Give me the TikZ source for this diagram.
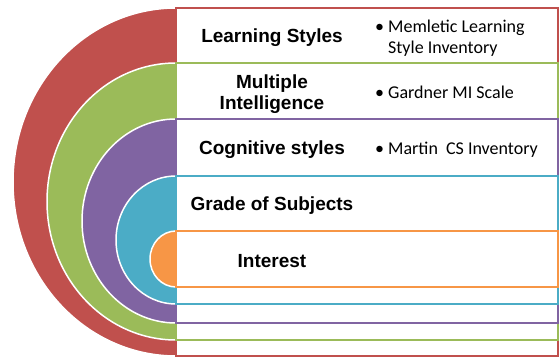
\documentclass[tikz,border=0pt]{standalone}
\usepackage{fontspec}
\setmainfont{Liberation Sans}
\newfontfamily\itemfont{Carlito}
\definecolor{layerred}{HTML}{C0504D}
\definecolor{layergreen}{HTML}{9BBB59}
\definecolor{layerpurple}{HTML}{8064A2}
\definecolor{layerteal}{HTML}{4BACC6}
\definecolor{layerorange}{HTML}{F79646}
\begin{document}
\begin{tikzpicture}[x=1pt,y=-1pt]

    \tikzset{
      ring/.style={
        draw=white,
        line width=1.5pt,
      },
      band/.style={
        fill=white,
        line width=2pt,
      },
      layertext/.style={
        anchor=base,
        font=\fontsize{19}{21}\selectfont\bfseries,
      },
      itemtext/.style={
        anchor=base west,
        inner sep=0pt,
        font=\fontsize{18}{21}\itemfont,
      },
    }
    \useasboundingbox (0,0) rectangle (560,358);
	\filldraw [fill={layerred},ring] (176,8) arc[start angle=90,end angle=270,x radius=163pt,y radius=174pt] -- cycle;
	\draw [color={layerred},band] (176,8) rectangle (558,356);
	\filldraw [fill={layergreen},ring] (176,63) arc[start angle=90,end angle=270,x radius=129pt,y radius=138.5pt] -- cycle;
	\draw [color={layergreen},band] (176,63) rectangle (558,340);
	\filldraw [fill={layerpurple},ring] (176,119) arc[start angle=90,end angle=270,x radius=94pt,y radius=102pt] -- cycle;
	\draw [color={layerpurple},band] (176,119) rectangle (558,323);
	\filldraw [fill={layerteal},ring] (176,176) arc[start angle=90,end angle=270,x radius=60pt,y radius=64pt] -- cycle;
	\draw [color={layerteal},band] (176,176) rectangle (558,304);
	\filldraw [fill={layerorange},ring] (176,231) arc[start angle=90,end angle=270,x radius=26pt,y radius=28pt] -- cycle;
	\draw [color={layerorange},band] (176,231) rectangle (558,287);

	\draw [color={black}] (272,43) node (learn) [layertext] {Learning Styles};
	\draw [color={black}] (272,89) node (multi) [layertext] {Multiple};
	\draw [color={black}] (272,110) node (intel) [layertext] {Intelligence};
	\draw [color={black}] (272,155) node (cogn) [layertext] {Cognitive styles};
	\draw [color={black}] (272,211) node (grade) [layertext] {Grade of Subjects};
	\draw [color={black}] (272,268) node (inter) [layertext] {Interest};

	\draw [color={black}] (375,33) node (dotlearn) [itemtext] {•};
	\draw [color={black}] (388,33) node (memletic) [itemtext] {Memletic Learning};
	\draw [color={black}] (388,54) node (inventory) [itemtext] {Style Inventory};
	\draw [color={black}] (375,99) node (dotmulti) [itemtext] {•};
	\draw [color={black}] (388,99) node (gardner) [itemtext] {Gardner MI Scale};
	\draw [color={black}] (375,155) node (dotcogn) [itemtext] {•};
	\draw [color={black}] (388,155) node (martin) [itemtext] {Martin\ \ CS Inventory};

\end{tikzpicture}
\end{document}
